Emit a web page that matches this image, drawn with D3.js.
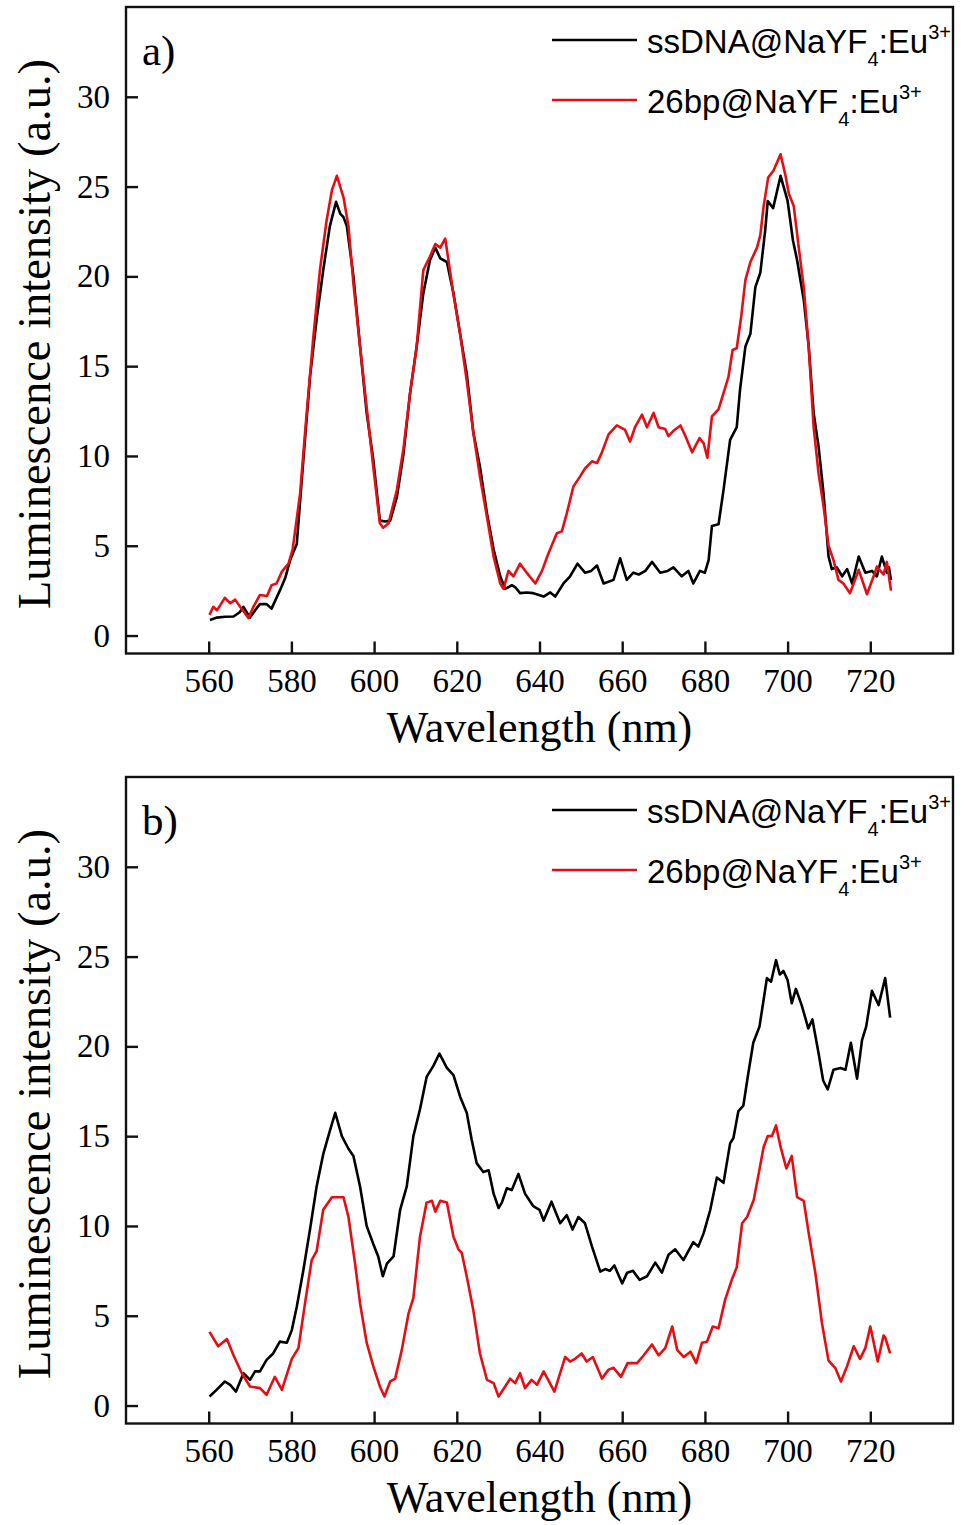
<!DOCTYPE html>
<html>
<head>
<meta charset="utf-8">
<script src="https://cdn.jsdelivr.net/npm/d3@7"></script>
<style>
  html, body { margin: 0; padding: 0; background: #fff; }
  svg { display: block; }
</style>
</head>
<body>
<svg id="chart" width="965" height="1525"></svg>
<script>
// ---------- data (wavelength nm, intensity a.u.) ----------
const xTicks = [560, 580, 600, 620, 640, 660, 680, 700, 720];
const yTicks = [0, 5, 10, 15, 20, 25, 30];
const seriesNames = ["ssDNA@NaYF", "26bp@NaYF"];
const panelLabels = ["a)", "b)"];

const aBlack = [[560.3,0.87],[562,1.0],[564,1.05],[566,1.06],[567.5,1.3],[568.4,1.6],[570,1.0],[571.2,1.4],[572.4,1.76],[574,1.75],[575.2,1.5],[576.2,2.0],[577.2,2.5],[578.5,3.2],[579.7,4.2],[581.3,5.1],[582.9,9.8],[584.5,14.4],[586.1,17.6],[587.7,20.35],[589.3,22.8],[590.8,24.15],[591.8,23.5],[592.6,23.3],[593.4,22.8],[595,20.0],[596.6,16.1],[598.2,12.4],[599.8,9.8],[601.4,6.4],[602.7,6.35],[603.9,6.4],[605.5,7.7],[607.1,10.1],[608.7,13.5],[610.3,16.1],[611.9,19.05],[613.5,20.9],[614.8,21.6],[616,21.0],[617.6,20.8],[619.2,19.05],[620.8,16.8],[622.4,14.6],[624,11.3],[625.6,9.4],[627.3,6.8],[628.9,4.8],[630.5,3.3],[631.7,2.6],[632.5,2.7],[633.3,2.8],[634.1,2.7],[635.3,2.36],[636.9,2.4],[638.5,2.36],[641,2.17],[642.6,2.4],[643.8,2.17],[645.8,2.9],[647.4,3.3],[649.2,4.0],[651,3.5],[652.5,3.6],[653.9,3.9],[655.5,2.9],[657.9,3.1],[659.5,4.3],[661.1,3.1],[662.7,3.5],[664,3.4],[665.6,3.6],[667.2,4.1],[669.2,3.5],[671,3.6],[672.4,3.8],[674.4,3.3],[676,3.6],[677.2,2.9],[678.8,3.6],[680,3.5],[680.9,4.2],[681.7,6.1],[683.3,6.2],[684.5,8.1],[686.1,10.9],[687.7,11.6],[688.5,13.7],[689.8,16.1],[691,16.8],[692.2,19.4],[693.4,20.2],[694.6,22.6],[695.2,24.2],[696.5,23.8],[697.5,24.8],[698.3,25.6],[700,24.2],[701.3,22.0],[702.3,20.9],[703.9,18.7],[705.1,16.1],[706.3,12.4],[707.5,10.5],[708.7,7.9],[709.9,4.4],[710.7,3.7],[711.9,3.8],[713.2,3.3],[714.4,3.7],[715.6,2.9],[717.2,4.4],[718.8,3.5],[720.4,3.6],[721.6,3.3],[722.8,4.4],[724,3.5],[724.5,3.8],[725,3.1]];

const aRed = [[560.2,1.15],[561.1,1.6],[562,1.4],[563.9,2.1],[565.2,1.8],[566.4,2.0],[567.6,1.6],[568.6,1.3],[569.6,0.97],[570.8,1.6],[572.4,2.26],[574.1,2.2],[575.2,2.8],[576.4,2.9],[577.7,3.56],[579.3,4.0],[580.3,4.8],[582.1,7.9],[583.7,12.4],[585.3,16.6],[586.9,20.35],[588.5,23.1],[589.8,24.8],[591,25.6],[592.6,24.4],[593.8,22.8],[595,19.6],[596.6,16.1],[598.2,12.7],[599.8,9.4],[601.4,6.25],[602.2,6.0],[603.5,6.25],[605.5,8.1],[607.1,10.4],[608.7,13.5],[610.3,16.1],[611.9,20.35],[613.5,21.1],[614.8,21.8],[616,21.6],[617.2,22.1],[619.2,19.0],[620.8,16.8],[622.4,14.2],[624,11.3],[625.6,8.85],[627.3,6.6],[628.9,4.4],[630.5,2.9],[631.3,2.6],[632.5,3.6],[633.7,3.3],[635.3,4.0],[636.9,3.5],[639,2.9],[640.6,3.6],[642.2,4.6],[644.2,5.7],[645.4,5.8],[646.6,6.8],[648.2,8.3],[649.8,8.85],[651,9.3],[652.7,9.7],[653.9,9.6],[655.1,10.2],[656.7,11.2],[658.7,11.7],[660.7,11.45],[661.9,10.8],[663.1,11.6],[664.8,12.3],[666,11.6],[667.6,12.4],[668.8,11.6],[670.4,11.5],[671.2,11.1],[672.4,11.4],[674.1,11.7],[675.3,11.1],[676.9,10.2],[678.7,11.0],[679.7,10.7],[680.6,9.9],[681.7,12.2],[683.3,12.6],[684.5,13.5],[685.7,14.4],[686.7,15.9],[687.7,16.0],[688.8,17.8],[689.8,19.8],[691,20.8],[692.6,21.6],[693.4,22.3],[694.2,23.9],[695.3,25.5],[696.6,25.9],[698.3,26.8],[699.5,25.6],[700.3,24.6],[701.5,23.9],[702.7,21.6],[703.9,19.4],[705.1,16.1],[706.3,11.6],[707.5,9.0],[708.7,7.2],[709.9,5.0],[711.1,4.2],[712.3,3.1],[713.5,2.9],[715.1,2.36],[717.2,3.66],[719.2,2.3],[720.8,3.3],[721.6,3.84],[723.2,3.4],[724,4.1],[725,2.5]];

const bBlack = [[560.2,0.5],[561.9,0.87],[563.9,1.34],[565.2,1.15],[566.6,0.78],[568.4,1.8],[570,1.43],[571.2,1.9],[572.4,1.9],[574,2.54],[575.6,2.9],[577.2,3.56],[578.9,3.5],[580.1,4.2],[581.3,5.5],[582.9,7.55],[584.5,9.8],[586.1,12.2],[587.7,14.0],[589.3,15.3],[590.6,16.3],[592.2,15.0],[593.8,14.3],[595,13.9],[596.6,12.2],[598.2,10.0],[599.8,9.0],[601,8.3],[602.1,7.2],[603.1,7.9],[604.7,8.3],[606.3,10.9],[607.9,12.2],[609.5,15.0],[611.1,16.5],[612.7,18.3],[614.3,18.9],[615.8,19.6],[617.6,18.8],[619.2,18.4],[620.8,17.2],[622.4,16.3],[623.6,14.8],[624.8,13.5],[626.4,13.0],[627.7,13.1],[628.9,11.8],[630.1,11.0],[630.9,11.3],[632.1,12.1],[633.3,12.0],[634.9,12.9],[636.5,11.8],[638.5,11.1],[640,10.9],[641,10.3],[642.9,11.35],[645,10.15],[646.6,10.6],[648,9.8],[649.4,10.5],[651,10.15],[652.7,8.85],[654.7,7.46],[655.9,7.6],[657,7.5],[658.1,7.8],[660,6.8],[661.2,7.4],[662.6,7.5],[664.2,7.0],[666,7.2],[668,7.96],[669.6,7.4],[671.2,8.4],[672.8,8.7],[674.8,8.1],[677.2,9.1],[678.4,8.85],[679.7,9.6],[681.3,10.9],[682.9,12.7],[684.5,12.4],[686.1,14.6],[686.9,14.9],[688.1,16.4],[689.3,16.7],[690.5,18.5],[691.7,20.2],[693.2,21.1],[694.2,22.6],[695,23.8],[696,23.6],[697.2,24.8],[698.1,24.0],[699,24.2],[700,23.7],[701,22.4],[702,23.2],[703.4,22.3],[705,21.0],[706,21.5],[707.5,19.6],[708.6,18.1],[709.7,17.6],[711.1,18.7],[712.8,18.8],[714,18.7],[715.3,20.2],[716.8,18.2],[718,20.35],[719,21.1],[720.4,23.1],[722,22.3],[723.6,23.8],[724.8,21.6]];

const bRed = [[560.2,4.1],[562.3,3.3],[564.4,3.7],[566,2.8],[568,1.8],[570,1.06],[572.4,0.97],[574,0.6],[576,1.6],[577.7,0.87],[580.1,2.6],[581.7,3.2],[583.3,5.7],[584.9,8.1],[586.1,8.6],[587.7,10.9],[589.8,11.6],[592.6,11.6],[593.8,10.5],[595.4,7.9],[596.6,5.7],[598.2,3.5],[599.8,2.2],[601.4,1.06],[602.5,0.5],[603.9,1.34],[605.1,1.5],[606.7,3.1],[608.3,5.1],[609.5,6.0],[611.1,9.4],[612.7,11.3],[614,11.4],[614.8,10.8],[616,11.4],[617.6,11.3],[619.2,9.4],[620.4,8.7],[621.2,8.5],[622.4,7.2],[624,5.3],[625.6,2.9],[627.3,1.43],[628.9,1.25],[630.1,0.5],[631.7,1.06],[632.9,1.5],[634.1,1.25],[635.3,1.8],[636.5,0.97],[638.1,1.43],[639.4,1.15],[641,1.9],[643.6,0.78],[646.2,2.7],[647.4,2.45],[648.6,2.6],[650.2,2.9],[651.4,2.45],[652.9,2.7],[655.1,1.5],[656.7,2.0],[657.9,2.1],[659.7,1.6],[661.3,2.36],[663.6,2.36],[665.2,2.8],[667.2,3.4],[668.8,2.8],[670.4,3.2],[672.1,4.4],[673.3,3.1],[674.9,2.7],[676.5,3.0],[677.9,2.36],[679.3,3.5],[680.5,3.55],[681.9,4.4],[683.3,4.3],[684.9,5.9],[686.5,7.0],[687.7,7.7],[689,10.15],[690.2,10.5],[691.8,11.45],[693,12.9],[694.2,14.4],[695.2,15.0],[696.2,15.0],[697.2,15.6],[698.3,14.4],[699.7,13.2],[701,13.9],[702.3,11.6],[703.9,11.4],[705.1,9.6],[706.7,7.4],[708.3,4.6],[709.9,2.5],[711.5,2.1],[712.9,1.34],[714.4,2.2],[716,3.3],[717.5,2.6],[718.8,3.2],[720,4.4],[721.8,2.45],[723.2,3.9],[723.6,3.8],[724.8,2.9]];

// ---------- drawing ----------
const svg = d3.select("#chart");
const SERIF = "'Liberation Serif','Times New Roman',Times,serif";
const SANS = "'Liberation Sans',Arial,Helvetica,sans-serif";
const RED = "#e60d14";
const BLACK = "#000";

const x = d3.scaleLinear().domain([540, 740]).range([126, 953]);

function drawPanel(off, label, blackData, redData) {
  const g = svg.append("g");
  const top = 7 + off, bottom = 653.5 + off;
  const y = d3.scaleLinear().domain([-1, 35]).range([bottom, top]);

  // axes
  const xa = g.append("g").attr("transform", `translate(0,${bottom})`)
    .call(d3.axisBottom(x).tickValues(xTicks).tickSizeInner(-12).tickSizeOuter(0).tickPadding(15).tickFormat(d3.format("d")));
  const ya = g.append("g").attr("transform", `translate(${x.range()[0]},0)`)
    .call(d3.axisLeft(y).tickValues(yTicks).tickSizeInner(-12).tickSizeOuter(0).tickPadding(16).tickFormat(d3.format("d")));
  [xa, ya].forEach(a => {
    a.select(".domain").remove();
    a.selectAll(".tick line").attr("stroke", "#111").attr("stroke-width", 2.4);
    a.selectAll(".tick text").attr("fill", "#000").style("font-family", SERIF).style("font-size", "33px");
  });

  // frame
  g.append("rect").attr("x", x.range()[0]).attr("y", top)
    .attr("width", x.range()[1] - x.range()[0]).attr("height", bottom - top)
    .attr("fill", "none").attr("stroke", "#111").attr("stroke-width", 2.4);

  // lines
  const line = d3.line().x(d => x(d[0])).y(d => y(d[1]));
  g.append("path").datum(blackData).attr("d", line)
    .attr("fill", "none").attr("stroke", BLACK).attr("stroke-width", 2.6).attr("stroke-linejoin", "round");
  g.append("path").datum(redData).attr("d", line)
    .attr("fill", "none").attr("stroke", RED).attr("stroke-width", 2.6).attr("stroke-linejoin", "round");

  // panel label
  g.append("text").attr("x", 142).attr("y", off + 65)
    .style("font-family", SERIF).style("font-size", "43px").attr("fill", "#000").text(label);

  // axis titles
  g.append("text").attr("x", (x.range()[0] + x.range()[1]) / 2).attr("y", off + 742)
    .attr("text-anchor", "middle").style("font-family", SERIF).style("font-size", "44px")
    .attr("fill", "#000").text("Wavelength (nm)");
  g.append("text").attr("transform", `translate(50,${off + 334}) rotate(-90)`)
    .attr("text-anchor", "middle").style("font-family", SERIF).style("font-size", "46.5px")
    .attr("fill", "#000").text("Luminescence intensity (a.u.)");

  // legend
  const colors = [BLACK, RED];
  seriesNames.forEach((name, i) => {
    const ly = off + 40 + i * 60;
    g.append("line").attr("x1", 552).attr("x2", 637).attr("y1", ly).attr("y2", ly)
      .attr("stroke", colors[i]).attr("stroke-width", 2.6);
    const t = g.append("text").attr("x", 647).attr("y", ly + 13)
      .style("font-family", SANS).style("font-size", "33px").attr("fill", "#000");
    t.append("tspan").text(name);
    t.append("tspan").attr("dy", 13).style("font-size", "20px").text("4");
    t.append("tspan").attr("dy", -13).text(":Eu");
    t.append("tspan").attr("dy", -14).style("font-size", "20px").text("3+");
  });
}

drawPanel(0, panelLabels[0], aBlack, aRed);
drawPanel(770, panelLabels[1], bBlack, bRed);
</script>
</body>
</html>
